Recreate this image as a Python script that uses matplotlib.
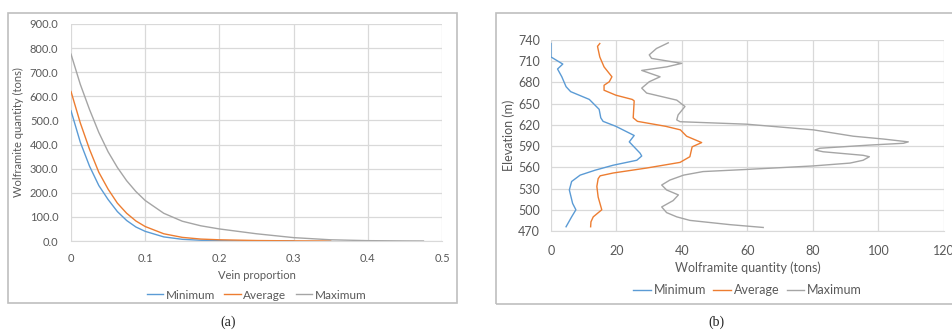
import matplotlib.pyplot as plt
from matplotlib.patches import Rectangle

# (a) wolframite quantity vs vein proportion
min_vein = [0, 0.0125, 0.025, 0.0375, 0.05, 0.0625, 0.075, 0.0875, 0.1, 0.125, 0.15,
            0.175, 0.2, 0.25, 0.3]
min_qty = [540, 410, 310, 230, 172, 122, 85, 58, 40, 17, 7, 3, 1.2, 0.2, 0]
avg_vein = [0, 0.0125, 0.025, 0.0375, 0.05, 0.0625, 0.075, 0.0875, 0.1, 0.125, 0.15,
            0.175, 0.2, 0.25, 0.3, 0.35]
avg_qty = [620, 490, 380, 285, 215, 157, 115, 83, 60, 30, 15, 8, 5, 2, 0.6, 0]
max_vein = [0, 0.0125, 0.025, 0.0375, 0.05, 0.0625, 0.075, 0.0875, 0.1, 0.125, 0.15,
            0.175, 0.2, 0.25, 0.3, 0.35, 0.4, 0.45, 0.475]
max_qty = [775, 650, 545, 450, 370, 305, 250, 205, 168, 115, 82, 63, 50, 30, 14, 5,
           1.5, 0.3, 0]

# (b) wolframite quantity vs elevation
min_elev = [735, 716, 706, 699, 688, 674, 667, 656, 642, 630, 625, 618, 605, 596,
            580, 576, 570, 563, 556, 549, 540, 528, 509, 500, 490, 476]
min_tons = [0, 0, 3.6, 2.0, 3.3, 4.6, 6.0, 11.7, 14.7, 15.2, 15.9, 19.8, 25.4, 23.9,
            27.2, 27.7, 26.2, 19.0, 13.5, 8.9, 6.3, 5.6, 6.6, 7.6, 6.3, 4.6]
avg_elev = [735, 731, 716, 702, 688, 681, 676, 669, 662, 656, 654, 630, 625, 618, 613,
            604, 595, 589, 579, 575, 567, 559, 552, 548, 544, 533, 518, 500, 490, 483,
            476]
avg_tons = [14.9, 14.2, 14.9, 16.2, 18.6, 17.8, 16.2, 16.2, 19.8, 24.8, 25.4, 25.1, 26.4,
            35.0, 39.5, 41.4, 46.0, 43.1, 42.6, 42.4, 39.4, 29.2, 19.0, 15.0, 14.4, 14.0,
            14.4, 15.5, 12.9, 12.2, 12.1]
max_elev = [736, 728, 719, 714, 707, 702, 697, 688, 681, 672, 665, 655, 646, 634, 627,
            624.5, 621, 613, 604, 600, 596, 594, 591.5, 587, 584.5, 582, 577, 575, 570,
            566, 562, 557, 554, 549, 542, 535, 528, 521, 513, 504, 496, 490, 485, 479, 475]
max_tons = [35.8, 32.2, 30.0, 30.7, 39.9, 35.3, 27.7, 33.3, 30.0, 27.7, 29.2, 38.4, 40.9,
            38.8, 38.4, 39.4, 59.7, 80.1, 92.3, 101.5, 109.1, 107.6, 97.4, 82.1, 80.6,
            83.1, 95.3, 97.2, 95.3, 91.3, 80.1, 59.7, 46.4, 40.5, 36.3, 33.8, 35.3, 38.9,
            37.3, 33.8, 35.3, 38.4, 42.4, 54.6, 64.8]

series_names = ["Minimum", "Average", "Maximum"]
colors = ["#5B9BD5", "#ED7D31", "#A5A5A5"]
text_color = "#595959"
grid_color = "#D9D9D9"

plt.rcParams["font.family"] = ["Lato", "DejaVu Sans"]

fig = plt.figure(figsize=(9.53, 3.34), dpi=100)

# chart area borders
fig.patches.append(Rectangle((8 / 953, 1 - 303 / 334), 449 / 953, 290 / 334,
                             transform=fig.transFigure, fill=False,
                             edgecolor="#BFBFBF", linewidth=1.2))
fig.patches.append(Rectangle((496 / 953, 1 - 304 / 334), 470 / 953, 291 / 334,
                             transform=fig.transFigure, fill=False,
                             edgecolor="#BFBFBF", linewidth=1.2))


def style_axes(ax, size):
    ax.grid(True, color=grid_color, linewidth=0.9)
    ax.set_axisbelow(True)
    for side in ["top", "right", "left"]:
        ax.spines[side].set_visible(False)
    ax.spines["bottom"].set_color(grid_color)
    ax.tick_params(length=0, colors=text_color, labelsize=size)


# panel (a)
ax1 = fig.add_axes([71 / 953, 1 - 241 / 334, 371 / 953, 217 / 334])
ax1.plot(min_vein, min_qty, color=colors[0], linewidth=1.0, label=series_names[0])
ax1.plot(avg_vein, avg_qty, color=colors[1], linewidth=1.0, label=series_names[1])
ax1.plot(max_vein, max_qty, color=colors[2], linewidth=1.0, label=series_names[2])
ax1.set_xlim(0, 0.5)
ax1.set_ylim(0, 900)
ax1.set_xticks([0, 0.1, 0.2, 0.3, 0.4, 0.5])
ax1.set_xticklabels(["0", "0.1", "0.2", "0.3", "0.4", "0.5"])
ax1.set_yticks(range(0, 901, 100))
ax1.set_yticklabels([f"{v:.1f}" for v in range(0, 901, 100)])
style_axes(ax1, 8)
ax1.tick_params(axis="x", pad=9)
ax1.tick_params(axis="y", pad=9)
ax1.set_xlabel("Vein proportion", color=text_color, fontsize=8, labelpad=4)
ax1.set_ylabel("Wolframite quantity (tons)", color=text_color, fontsize=8, labelpad=4)
ax1.legend(loc="upper center", bbox_to_anchor=(0.5, -0.175), ncol=3, frameon=False,
           fontsize=8.5, handlelength=1.4, handletextpad=0.2, columnspacing=0.8,
           labelcolor=text_color)

# panel (b)
ax2 = fig.add_axes([551 / 953, 1 - 231 / 334, 393 / 953, 191 / 334])
ax2.plot(min_tons, min_elev, color=colors[0], linewidth=1.0, label=series_names[0])
ax2.plot(avg_tons, avg_elev, color=colors[1], linewidth=1.0, label=series_names[1])
ax2.plot(max_tons, max_elev, color=colors[2], linewidth=1.0, label=series_names[2])
ax2.set_xlim(0, 120)
ax2.set_ylim(470, 740)
ax2.set_xticks(range(0, 121, 20))
ax2.set_yticks(range(470, 741, 30))
style_axes(ax2, 9)
ax2.tick_params(axis="x", pad=10)
ax2.tick_params(axis="y", pad=8)
ax2.set_xlabel("Wolframite quantity (tons)", color=text_color, fontsize=9, labelpad=3)
ax2.set_ylabel("Elevation (m)", color=text_color, fontsize=9, labelpad=2)
ax2.legend(loc="upper center", bbox_to_anchor=(0.5, -0.22), ncol=3, frameon=False,
           fontsize=9, handlelength=1.4, handletextpad=0.2, columnspacing=0.6,
           labelcolor=text_color)

fig.text(228 / 953, 1 - 322 / 334, "(a)", ha="center", va="center",
         fontsize=10, family="Liberation Serif", color="#222222")
fig.text(716 / 953, 1 - 322 / 334, "(b)", ha="center", va="center",
         fontsize=10, family="Liberation Serif", color="#222222")

fig.savefig("out.png", dpi=100)
